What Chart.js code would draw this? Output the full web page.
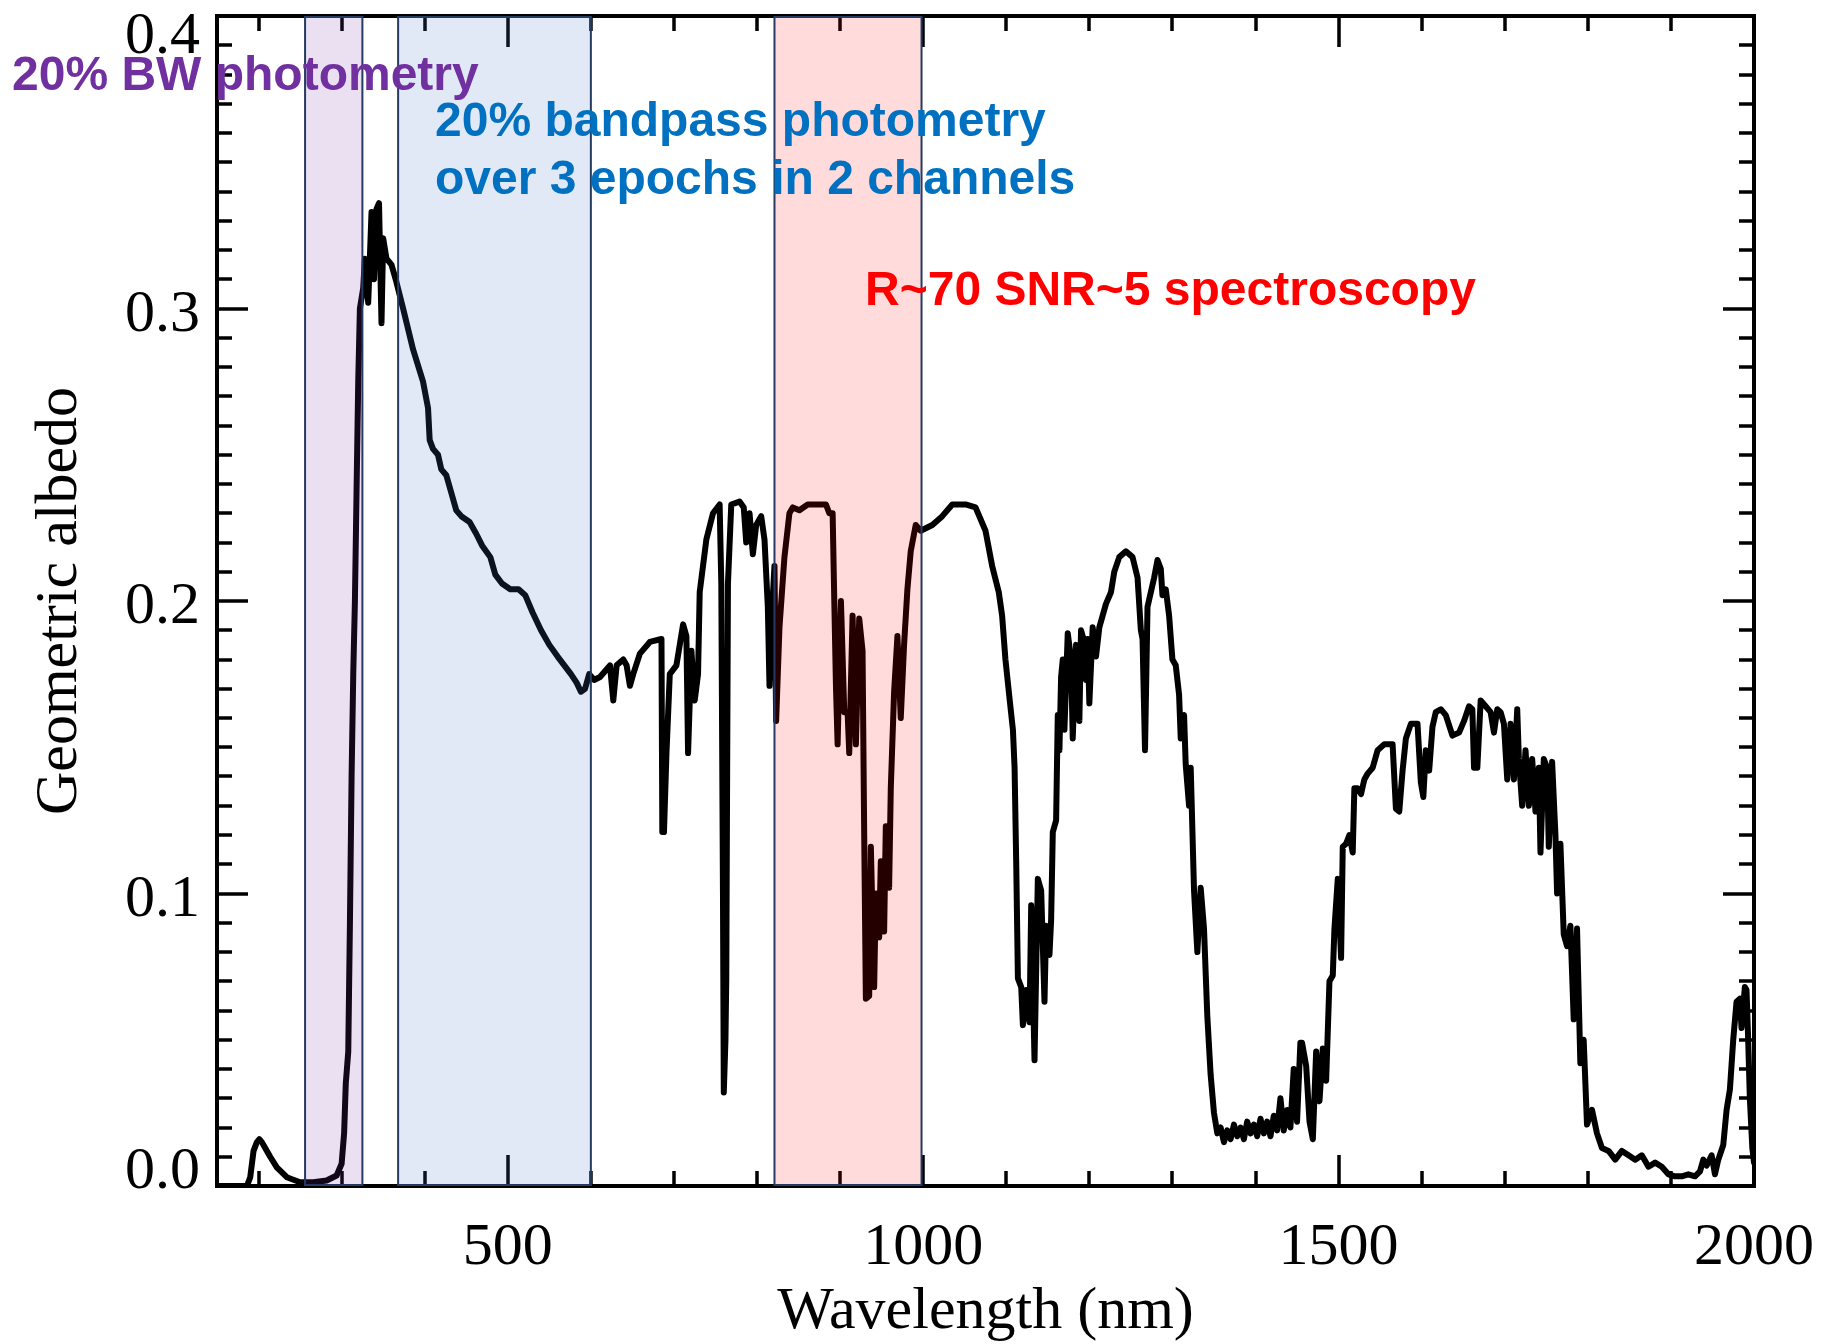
<!DOCTYPE html>
<html>
<head>
<meta charset="utf-8">
<script src="https://cdn.jsdelivr.net/npm/chart.js@4.4.1/dist/chart.umd.min.js"></script>
<style>
  html, body { margin: 0; padding: 0; background: #ffffff; }
  #wrap { width: 1821px; height: 1344px; position: relative; }
</style>
</head>
<body>
<div id="wrap"><canvas id="chart" width="1821" height="1344"></canvas></div>
<script>
// ---------------- DATA ----------------
const wavelengthNm = [
  150,186,190,194,198,201,204,208,214,222,234,250,266,282,294,300,303,305,308,310,
  312,314,316,318,320,322,326,328,332,336,339,342,345,348,350,354,360,366,374,386,
  398,404,406,410,416,420,426,432,438,444,454,462,469,479,485,493,503,513,521,530,
  540,550,560,568,576,583,588,593,598,604,611,617,623,627,631,639,643,647,651,659,
  671,685,686,688,691,695,703,711,715,717,721,725,729,731,739,747,755,757,759,760,
  762,763,765,769,779,784,787,791,795,799,805,809,813,815,817,821,823,827,833,839,
  843,851,861,871,883,887,891,893,895,897,901,905,909,911,915,919,923,927,929,931,
  935,937,941,943,947,949,953,955,959,961,965,969,973,977,981,985,991,997,1011,1023,
  1035,1051,1063,1075,1083,1091,1095,1099,1104,1108,1110,1112,1114,1118,1120,1124,1128,1130,1134,1138,
  1142,1146,1148,1152,1154,1156,1160,1162,1164,1166,1168,1170,1174,1178,1180,1184,1188,1190,1194,1196,
  1198,1200,1204,1208,1212,1216,1220,1226,1230,1236,1244,1252,1258,1262,1264,1267,1270,1274,1278,1282,
  1286,1288,1292,1296,1300,1304,1308,1310,1314,1316,1320,1322,1326,1330,1334,1338,1342,1346,1350,1354,
  1358,1362,1366,1370,1374,1378,1382,1386,1390,1394,1398,1402,1406,1410,1414,1418,1422,1426,1430,1434,
  1438,1442,1446,1450,1454,1456,1461,1465,1469,1473,1477,1481,1485,1489,1493,1495,1499,1503,1505,1509,
  1513,1517,1519,1523,1527,1531,1535,1541,1547,1555,1565,1569,1573,1577,1581,1587,1595,1599,1602,1605,
  1609,1613,1617,1623,1629,1637,1645,1651,1657,1661,1663,1667,1671,1677,1683,1687,1691,1695,1699,1703,
  1707,1711,1715,1717,1721,1725,1729,1733,1737,1741,1743,1747,1751,1753,1757,1761,1763,1767,1771,1775,
  1779,1783,1787,1791,1795,1799,1805,1811,1817,1825,1833,1841,1849,1857,1865,1873,1881,1889,1897,1905,
  1913,1921,1929,1935,1939,1943,1949,1953,1957,1963,1967,1971,1975,1979,1983,1985,1989,1991,1993,1995,
  1998,2000
];
const geometricAlbedo = [
  0.000,0.000,0.003,0.012,0.015,0.016,0.015,0.013,0.010,0.0064,0.003,0.0013,0.0013,0.0019,0.0036,0.0076,0.018,0.035,0.046,0.090,
  0.140,0.175,0.200,0.238,0.275,0.300,0.307,0.317,0.302,0.333,0.310,0.334,0.336,0.295,0.324,0.317,0.315,0.309,0.300,0.286,
  0.275,0.266,0.255,0.252,0.250,0.245,0.243,0.237,0.231,0.229,0.227,0.223,0.219,0.215,0.209,0.206,0.204,0.204,0.202,0.196,
  0.190,0.185,0.181,0.178,0.175,0.172,0.169,0.170,0.175,0.173,0.174,0.176,0.178,0.166,0.178,0.180,0.178,0.171,0.175,0.182,
  0.186,0.187,0.121,0.121,0.148,0.175,0.178,0.192,0.188,0.148,0.183,0.166,0.175,0.203,0.221,0.230,0.233,0.206,0.100,0.032,
  0.050,0.071,0.206,0.233,0.234,0.232,0.220,0.230,0.216,0.226,0.229,0.221,0.198,0.171,0.191,0.212,0.159,0.191,0.215,0.230,
  0.232,0.231,0.233,0.233,0.233,0.230,0.230,0.200,0.171,0.151,0.200,0.162,0.162,0.148,0.195,0.151,0.194,0.183,0.120,0.064,
  0.065,0.116,0.068,0.100,0.085,0.111,0.087,0.123,0.102,0.136,0.169,0.188,0.160,0.185,0.204,0.217,0.226,0.224,0.226,0.229,
  0.233,0.233,0.232,0.224,0.212,0.203,0.195,0.180,0.1665,0.156,0.143,0.110,0.071,0.068,0.055,0.067,0.056,0.096,0.043,0.105,
  0.101,0.063,0.089,0.079,0.091,0.121,0.125,0.161,0.149,0.174,0.180,0.156,0.189,0.180,0.153,0.185,0.159,0.190,0.186,0.173,
  0.187,0.165,0.191,0.181,0.191,0.195,0.199,0.203,0.210,0.215,0.217,0.215,0.208,0.190,0.187,0.149,0.198,0.203,0.208,0.214,
  0.211,0.202,0.204,0.195,0.180,0.178,0.168,0.153,0.161,0.144,0.130,0.143,0.101,0.080,0.102,0.088,0.058,0.038,0.025,0.018,
  0.020,0.015,0.019,0.016,0.021,0.017,0.020,0.016,0.022,0.018,0.021,0.017,0.023,0.018,0.022,0.017,0.024,0.019,0.030,0.019,
  0.026,0.020,0.040,0.022,0.049,0.049,0.041,0.022,0.016,0.046,0.029,0.047,0.036,0.070,0.072,0.088,0.105,0.078,0.116,0.117,
  0.120,0.114,0.136,0.136,0.134,0.139,0.141,0.143,0.149,0.151,0.151,0.129,0.128,0.142,0.153,0.158,0.158,0.138,0.133,0.149,
  0.142,0.157,0.162,0.163,0.161,0.154,0.155,0.159,0.164,0.163,0.143,0.143,0.166,0.164,0.162,0.155,0.163,0.162,0.158,0.139,
  0.158,0.139,0.163,0.146,0.130,0.149,0.130,0.146,0.128,0.143,0.114,0.146,0.143,0.116,0.145,0.120,0.100,0.117,0.086,0.082,
  0.089,0.057,0.088,0.042,0.050,0.021,0.026,0.018,0.013,0.012,0.009,0.012,0.0105,0.009,0.0105,0.0066,0.008,0.0066,0.004,0.0033,
  0.0033,0.004,0.0033,0.005,0.009,0.007,0.0105,0.004,0.009,0.014,0.026,0.033,0.050,0.063,0.064,0.054,0.068,0.067,0.050,0.030,
  0.013,0.008
];
const xMajorTickValues = [500, 1000, 1500, 2000];
const xMajorTickLabels = ['500', '1000', '1500', '2000'];
const yMajorTickValues = [0, 0.1, 0.2, 0.3, 0.4];
const yMajorTickLabels = ['0.0', '0.1', '0.2', '0.3', '0.4'];
const bandStartNm = [256, 368, 821];
const bandEndNm = [325, 600, 998];
const bandLabels = [
  ['20% BW photometry'],
  ['20% bandpass photometry', 'over 3 epochs in 2 channels'],
  ['R~70 SNR~5 spectroscopy']
];
const xAxisTitle = 'Wavelength (nm)';
const yAxisTitle = 'Geometric albedo';

// ---------------- STYLE ----------------
const bandFill = ['rgba(112,48,160,0.15)', 'rgba(68,114,196,0.16)', 'rgba(255,0,0,0.14)'];
const bandTextColor = ['#7030A0', '#0070C0', '#FF0000'];
const bandTextPos = [[[12, 90]], [[435, 136], [435, 194]], [[865, 305]]];

const points = wavelengthNm.map((w, i) => ({ x: w, y: geometricAlbedo[i] }));

const overlayPlugin = {
  id: 'overlay',
  beforeDraw(chart) {
    const ctx = chart.ctx;
    ctx.save();
    ctx.fillStyle = '#ffffff';
    ctx.fillRect(0, 0, chart.width, chart.height);
    ctx.restore();
  },
  afterDatasetsDraw(chart) {
    const ctx = chart.ctx;
    const xs = chart.scales.x, ys = chart.scales.y;
    const a = chart.chartArea;
    ctx.save();
    // ticks (inward, all four sides)
    ctx.strokeStyle = '#000';
    ctx.lineWidth = 3.5;
    ctx.lineCap = 'butt';
    ctx.beginPath();
    for (let v = 200; v <= 2000; v += 100) {
      const major = v % 500 === 0;
      const len = major ? 31 : 15;
      const px = Math.round(xs.getPixelForValue(v));
      ctx.moveTo(px, a.bottom); ctx.lineTo(px, a.bottom - len);
      ctx.moveTo(px, a.top); ctx.lineTo(px, a.top + len);
    }
    for (let i = 1; i < 40; i++) {
      const major = i % 10 === 0;
      const len = major ? 31 : 15;
      const py = Math.round(ys.getPixelForValue(i / 100));
      ctx.moveTo(a.left, py); ctx.lineTo(a.left + len, py);
      ctx.moveTo(a.right, py); ctx.lineTo(a.right - len, py);
    }
    ctx.stroke();
    // frame
    ctx.lineWidth = 4;
    ctx.strokeRect(a.left, a.top, a.right - a.left, a.bottom - a.top);

    // shaded bands (drawn over the curve, translucent)
    for (let i = 0; i < bandStartNm.length; i++) {
      const x0 = xs.getPixelForValue(bandStartNm[i]);
      const x1 = xs.getPixelForValue(bandEndNm[i]);
      const y0 = ys.getPixelForValue(0.4);
      const y1 = ys.getPixelForValue(0);
      ctx.fillStyle = bandFill[i];
      ctx.fillRect(x0, y0, x1 - x0, y1 - y0);
      ctx.strokeStyle = '#243B62';
      ctx.lineWidth = 2;
      ctx.strokeRect(x0, y0 + 1, x1 - x0, y1 - y0 - 2);
    }

    // tick labels
    ctx.fillStyle = '#000';
    ctx.font = '60px "Liberation Serif", "Times New Roman", serif';
    ctx.textAlign = 'center';
    ctx.textBaseline = 'alphabetic';
    xMajorTickValues.forEach((v, i) => {
      ctx.fillText(xMajorTickLabels[i], xs.getPixelForValue(v), a.bottom + 78);
    });
    ctx.textAlign = 'right';
    yMajorTickValues.forEach((v, i) => {
      let off = 22;
      if (i === 0) off = 2;
      if (i === yMajorTickValues.length - 1) off = 37;
      ctx.fillText(yMajorTickLabels[i], 200, ys.getPixelForValue(v) + off);
    });
    // axis titles
    ctx.textAlign = 'center';
    ctx.fillText(xAxisTitle, (a.left + a.right) / 2, 1328);
    ctx.save();
    ctx.translate(76, (a.top + a.bottom) / 2);
    ctx.rotate(-Math.PI / 2);
    ctx.fillText(yAxisTitle, 0, 0);
    ctx.restore();

    // band annotations
    ctx.font = 'bold 48px "Liberation Sans", Arial, sans-serif';
    ctx.textAlign = 'left';
    bandLabels.forEach((lines, i) => {
      ctx.fillStyle = bandTextColor[i];
      lines.forEach((t, j) => {
        ctx.fillText(t, bandTextPos[i][j][0], bandTextPos[i][j][1]);
      });
    });
    ctx.restore();
  }
};

new Chart(document.getElementById('chart'), {
  type: 'scatter',
  data: {
    datasets: [{
      label: 'Geometric albedo',
      data: points,
      showLine: true,
      borderColor: '#000000',
      borderWidth: 6,
      borderJoinStyle: 'round',
      borderCapStyle: 'round',
      pointRadius: 0,
      tension: 0,
      fill: false
    }]
  },
  options: {
    responsive: false,
    animation: false,
    devicePixelRatio: 1,
    layout: { padding: { left: 217, right: 67, top: 16, bottom: 158 } },
    plugins: { legend: { display: false }, tooltip: { enabled: false } },
    scales: {
      x: { type: 'linear', min: 150, max: 2000, display: false },
      y: { type: 'linear', min: 0, max: 0.4, display: false }
    }
  },
  plugins: [overlayPlugin]
});
</script>
</body>
</html>
